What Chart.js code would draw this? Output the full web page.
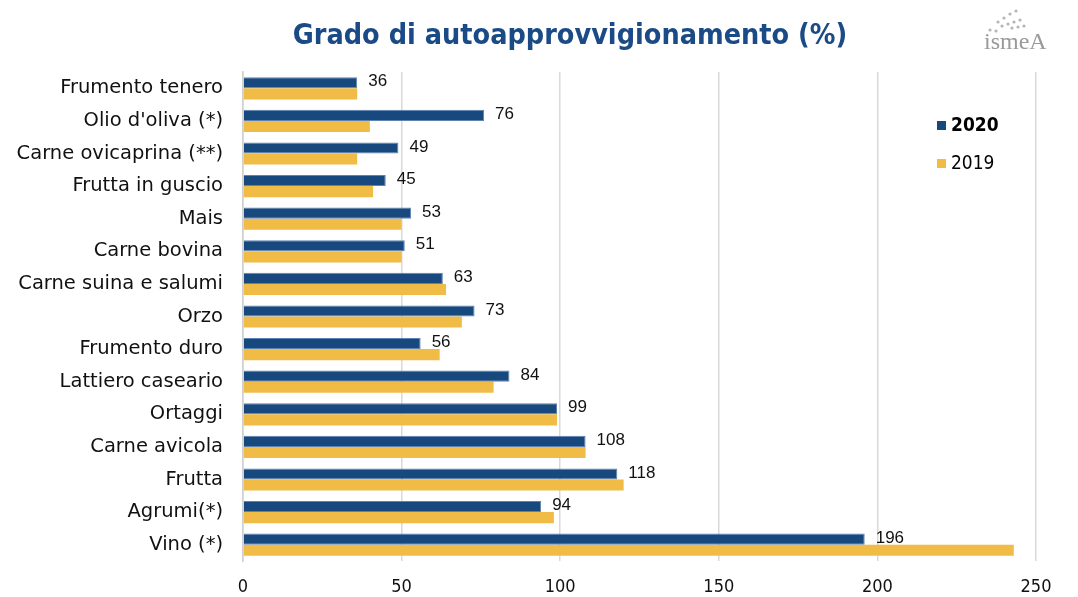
<!DOCTYPE html>
<html>
<head>
<meta charset="utf-8">
<script src="https://cdn.jsdelivr.net/npm/chart.js@4.4.0/dist/chart.umd.min.js"></script>
<style>
html,body{margin:0;padding:0;background:#fff;}
#wrap{width:1078px;height:597px;position:relative;}
</style>
</head>
<body>
<div id="wrap"><canvas id="c" width="1078" height="597"></canvas></div>
<script>
const categories = ["Frumento tenero","Olio d'oliva (*)","Carne ovicaprina (**)","Frutta in guscio","Mais","Carne bovina","Carne suina e salumi","Orzo","Frumento duro","Lattiero caseario","Ortaggi","Carne avicola","Frutta","Agrumi(*)","Vino (*)"];
const values2020 = [36,76,49,45,53,51,63,73,56,84,99,108,118,94,196];
const values2019 = [36,40,36,41,50,50,64,69,62,79,99,108,120,98,243];
const xTicks = [0,50,100,150,200,250];
const seriesNames = ["2020","2019"];
const titleText = "Grado di autoapprovvigionamento (%)";

const BLUE = '#17497F';
const GOLD = '#F0BC46';

const overlay = {
  id:'overlay',
  afterDatasetsDraw(chart){
    const ctx = chart.ctx;
    ctx.save();
    const meta = chart.getDatasetMeta(0);
    ctx.font = '17px "Liberation Sans", Arial, sans-serif';
    ctx.fillStyle = '#111';
    ctx.textAlign = 'left';
    ctx.textBaseline = 'middle';
    meta.data.forEach((el,i)=>{
      ctx.fillText(String(values2020[i]), el.x + 11, el.y - 1);
    });
    // title
    ctx.font = 'bold 28.5px "DejaVu Sans Condensed", "DejaVu Sans", sans-serif';
    ctx.fillStyle = '#1B4B86';
    ctx.textAlign = 'center';
    ctx.fillText(titleText, 570, 37);
    // legend
    const items = [{t:seriesNames[0],c:BLUE,bold:true,y:125},{t:seriesNames[1],c:GOLD,bold:false,y:163}];
    items.forEach(it=>{
      ctx.fillStyle = it.c;
      ctx.fillRect(937, it.y-4, 9, 9);
      ctx.fillStyle = '#000';
      ctx.textAlign='left';
      ctx.font = (it.bold?'bold ':'') + '19px "DejaVu Sans Condensed", "DejaVu Sans", sans-serif';
      ctx.fillText(it.t, 951, it.y+1);
    });
    // logo
    ctx.fillStyle = '#9a9a9a';
    ctx.font = '24px "Liberation Serif", serif';
    ctx.textAlign='left';
    ctx.fillText('ismeA', 984, 43);
    ctx.fillStyle='#b5b5b5';
    [[998,22],[1004,18],[1010,14],[1016,11],[1002,26],[1008,24],[1014,22],[1020,20],[1012,28],[1018,27],[1024,26],[990,30],[996,31]].forEach(p=>{
      ctx.beginPath(); ctx.arc(p[0],p[1],1.6,0,Math.PI*2); ctx.fill();
    });
    ctx.restore();
  }
};

new Chart(document.getElementById('c'), {
  type:'bar',
  data:{
    labels: categories,
    datasets:[
      {label:seriesNames[0], data:values2020, backgroundColor:BLUE, borderColor:'#5f83b0', borderWidth:1, categoryPercentage:0.68, barPercentage:1.0},
      {label:seriesNames[1], data:values2019, backgroundColor:GOLD, borderWidth:0, categoryPercentage:0.68, barPercentage:1.0}
    ]
  },
  options:{
    indexAxis:'y',
    responsive:false,
    animation:false,
    devicePixelRatio:1,
    layout:{padding:{top:72,right:42,left:0,bottom:0}},
    plugins:{legend:{display:false},title:{display:false},tooltip:{enabled:false}},
    scales:{
      x:{
        min:0,max:250,
        afterBuildTicks(s){ s.ticks = xTicks.map(v=>({value:v})); },
        afterFit(s){ s.height = 36; },
        grid:{color:'#d9d9d9',lineWidth:1.5,drawTicks:false},
        border:{display:false},
        ticks:{color:'#111',font:{size:18,family:'"DejaVu Sans Condensed", "DejaVu Sans", sans-serif'},padding:16}
      },
      y:{
        afterFit(s){ s.width = 243; },
        grid:{display:false,drawTicks:false},
        border:{display:true,color:'#cfcfcf',width:1.5},
        ticks:{color:'#111',font:{size:19.5,family:'"DejaVu Sans", sans-serif'},padding:20}
      }
    }
  },
  plugins:[overlay]
});
</script>
</body>
</html>
